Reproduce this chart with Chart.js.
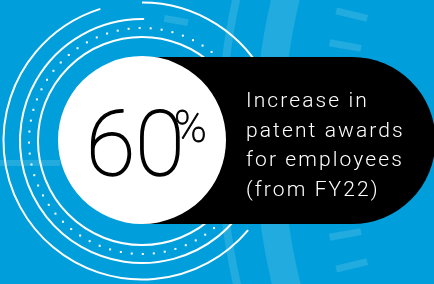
<!DOCTYPE html>
<html>
<head>
<meta charset="utf-8">
<script src="https://cdn.jsdelivr.net/npm/chart.js@4"></script>
<style>
  html, body { margin: 0; padding: 0; background: #009fdb; overflow: hidden; }
  #wrap { width: 434px; height: 284px; position: relative; }
</style>
</head>
<body>
<div id="wrap"><canvas id="chart"></canvas></div>
<script>
// the one number on the card
const statValue = [60];
const statUnit = ['%'];
const captionLines = ['Increase in', 'patent awards', 'for employees', '(from FY22)'];

const blue = '#009fdb';
const faint = 'rgba(255,255,255,0.13)';

function rad(d) { return d * Math.PI / 180; }

function strokeArc(ctx, x, y, r, a0, a1, lw, color) {
  ctx.beginPath();
  ctx.arc(x, y, r, rad(a0), rad(a1));
  ctx.lineWidth = lw;
  ctx.strokeStyle = color;
  ctx.stroke();
}

// background, faint shapes, rings and the black pill, all behind the white disc
const backdrop = {
  id: 'backdrop',
  beforeDatasetsDraw(chart) {
    const ctx = chart.ctx;
    const meta = chart.getDatasetMeta(0).data[0];
    const cx = meta.x, cy = meta.y + 1;
    ctx.save();
    ctx.fillStyle = blue;
    ctx.fillRect(0, 0, chart.width, chart.height);

    // big faint dial on the right
    const bx = 878, by = 140;
    strokeArc(ctx, bx, by, 657, 160, 200, 8, faint);
    strokeArc(ctx, bx, by, 609, 160, 200, 28, faint);
    ctx.lineCap = 'butt';
    for (let k = -4; k <= 4; k++) {
      const a = rad(180 + k * 3.35);
      ctx.beginPath();
      ctx.moveTo(bx + 525 * Math.cos(a), by + 525 * Math.sin(a));
      ctx.lineTo(bx + 557 * Math.cos(a), by + 557 * Math.sin(a));
      ctx.lineWidth = 7;
      ctx.strokeStyle = faint;
      ctx.stroke();
    }
    ctx.fillStyle = faint;
    ctx.fillRect(0, 160, 60, 6);
    ctx.save();
    ctx.translate(176, 21);
    ctx.rotate(rad(10));
    ctx.fillRect(-12, -4, 24, 7);
    ctx.restore();

    // white rings round the disc
    strokeArc(ctx, cx, cy, 104, 0, 360, 2, '#fff');
    ctx.fillStyle = '#fff';
    for (let a = 0; a < 360; a += 5.6) {
      ctx.fillRect(cx + 113 * Math.cos(rad(a)) - 1, cy + 113 * Math.sin(rad(a)) - 1, 2, 2);
    }
    strokeArc(ctx, cx, cy, 122, 30, 271, 2, '#fff');
    strokeArc(ctx, cx, cy, 138.5, 40, 252.5, 2, '#fff');
    strokeArc(ctx, cx, cy, 138.5, 270, 335, 2, '#fff');

    // black pill
    const top = 57, bot = 224, rx = 352, rr = (bot - top) / 2;
    ctx.beginPath();
    ctx.moveTo(cx, top);
    ctx.lineTo(rx, top);
    ctx.arc(rx, top + rr, rr, -Math.PI / 2, Math.PI / 2);
    ctx.lineTo(cx, bot);
    ctx.closePath();
    ctx.fillStyle = '#000';
    ctx.fill();
    ctx.restore();
  },
  afterDatasetsDraw(chart) {
    const ctx = chart.ctx;
    ctx.save();
    ctx.textAlign = 'left';
    ctx.textBaseline = 'alphabetic';
    ctx.fillStyle = '#000';
    ctx.strokeStyle = '#000';
    ctx.lineJoin = 'round';
    // thin face plus a light outline gives the weight of the original
    ctx.font = '100 90px Roboto';
    ctx.letterSpacing = '0px';
    ctx.lineWidth = 1.4;
    ctx.fillText(String(statValue[0]), 86, 175);
    ctx.strokeText(String(statValue[0]), 86, 175);
    ctx.font = '100 44px Roboto';
    ctx.lineWidth = 0.9;
    ctx.fillText(statUnit[0], 174, 142);
    ctx.strokeText(statUnit[0], 174, 142);

    ctx.fillStyle = '#fff';
    ctx.font = '300 21px Roboto';
    ctx.letterSpacing = '2.1px';
    captionLines.forEach(function(line, i) {
      ctx.fillText(line, 246, 107 + i * 29.5);
    });
    ctx.restore();
  }
};

new Chart(document.getElementById('chart'), {
  type: 'pie',
  data: {
    labels: ['Increase in patent awards'],
    datasets: [{
      data: statValue,
      backgroundColor: ['#fff'],
      borderWidth: 0
    }]
  },
  options: {
    responsive: true,
    maintainAspectRatio: false,
    animation: false,
    layout: { padding: { left: 58, right: 208, top: 56, bottom: 60 } },
    plugins: {
      legend: { display: false },
      tooltip: { enabled: false }
    }
  },
  plugins: [backdrop]
});
</script>
</body>
</html>
